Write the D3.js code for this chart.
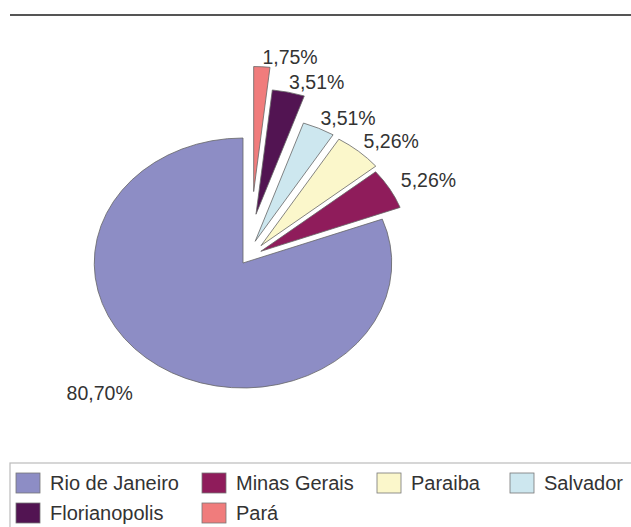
<!DOCTYPE html>
<html><head><meta charset="utf-8">
<script src="https://cdn.jsdelivr.net/npm/d3@7/dist/d3.min.js"></script>
<style>body{margin:0;background:#fff;}svg{display:block;font-family:"Liberation Sans",Arial,sans-serif;}</style>
</head><body>
<svg id="c" width="631" height="527"></svg>
<script>
// Data (legend order)
const categories = ["Rio de Janeiro", "Minas Gerais", "Paraiba", "Salvador", "Florianopolis", "Pará"];
const values = [80.70, 5.26, 5.26, 3.51, 3.51, 1.75];
const labels = ["80,70%", "5,26%", "5,26%", "3,51%", "3,51%", "1,75%"];

// Styling
const colors = ["#8d8dc5", "#8f1c5b", "#fbf7cb", "#cde7ef", "#521452", "#f07c7c"];
const explode = [0, 19, 23, 24, 50, 72];
const explodeTurn = [0, -8, 0, 0, 0, 4]; // degrees

const svg = d3.select("#c");
const W = 631, H = 527;
const cx = 243, cy = 263, R = 125, sx = 1.19;

// top rule
svg.append("line").attr("x1", 10).attr("x2", W).attr("y1", 15).attr("y2", 15)
  .attr("stroke", "#555").attr("stroke-width", 2);

const pie = d3.pie().sort(null).value(d => d.v).startAngle(2 * Math.PI).endAngle(0);
const data = categories.map((c, i) => ({c, v: values[i], i}));
const arcs = pie(data);
const arc = d3.arc().innerRadius(0).outerRadius(R);

function offset(d) {
  const m = (d.startAngle + d.endAngle) / 2 + explodeTurn[d.data.i] * Math.PI / 180;
  const e = explode[d.data.i];
  return [e * Math.sin(m), -e * Math.cos(m)];
}

const g = svg.append("g").attr("transform", `translate(${cx},${cy}) scale(${sx},1)`);
g.selectAll("path").data(arcs).join("path")
  .attr("d", arc)
  .attr("transform", d => { const o = offset(d); return `translate(${o[0]},${o[1]})`; })
  .attr("fill", d => colors[d.data.i])
  .attr("stroke", "#666").attr("stroke-width", 0.8)
  .attr("vector-effect", "non-scaling-stroke");

// labels
svg.append("g").selectAll("text").data(arcs).join("text")
  .attr("font-size", 19.5).attr("fill", "#333").attr("text-anchor", "middle").attr("dy", "0.35em")
  .attr("x", d => pos(d)[0]).attr("y", d => pos(d)[1])
  .text(d => labels[d.data.i]);

function pos(d) {
  const m = (d.startAngle + d.endAngle) / 2;
  const md = m * 180 / Math.PI;
  let a, r;
  if (d.data.i === 0) { a = m + 8 * Math.PI / 180; r = R * 1.42; }
  else { a = (0.885 * md + 10) * Math.PI / 180; r = 137 + 0.35 * md; }
  const o = offset(d);
  return [cx + (o[0] + r * Math.sin(a)) * sx, cy + o[1] - r * Math.cos(a)];
}

// legend
svg.append("rect").attr("x", 10).attr("y", 463).attr("width", W + 10).attr("height", 100)
  .attr("fill", "none").attr("stroke", "#bbb").attr("stroke-width", 1.2);
const colX = [16, 202, 377, 510];
const rowY = [473, 503];
const lg = svg.append("g").selectAll("g").data(data).join("g")
  .attr("transform", d => `translate(${colX[d.i % 4]},${rowY[Math.floor(d.i / 4)]})`);
lg.append("rect").attr("width", 24).attr("height", 20)
  .attr("fill", d => colors[d.i]).attr("stroke", "#777").attr("stroke-width", 0.8);
lg.append("text").attr("x", 34).attr("y", 10).attr("dy", "0.36em")
  .attr("font-size", 20).attr("fill", "#333").text(d => d.c);
</script>
</body></html>
